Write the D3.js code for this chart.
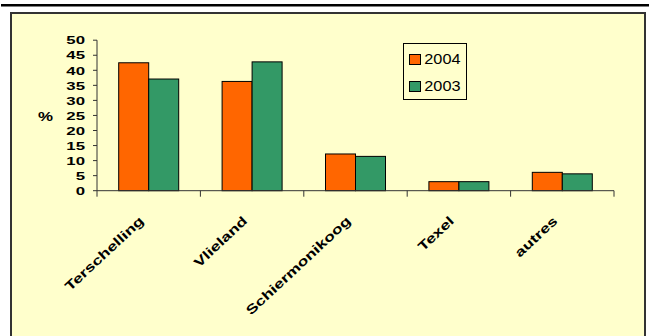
<!DOCTYPE html>
<html>
<head>
<meta charset="utf-8">
<script src="https://cdn.jsdelivr.net/npm/d3@7"></script>
<style>
  html, body { margin: 0; padding: 0; background: #ffffff; }
  svg { display: block; }
  text { font-family: "Liberation Sans", Arial, sans-serif; }
</style>
</head>
<body>
<svg id="chart" width="649" height="336"></svg>
<script>
const categories = ["Terschelling", "Vlieland", "Schiermonikoog", "Texel", "autres"];
const seriesNames = ["2004", "2003"];
const values2004 = [42.5, 36.3, 12.2, 3.0, 6.1];
const values2003 = [37.1, 42.8, 11.4, 3.0, 5.6];
const yTicks = [0, 5, 10, 15, 20, 25, 30, 35, 40, 45, 50];
const colors = ["#FF6600", "#339966"];

const svg = d3.select("#chart");

// top rule
svg.append("rect").attr("x", 1).attr("y", 4).attr("width", 648).attr("height", 2.5).attr("fill", "#000");

// chart panel
svg.append("rect")
  .attr("x", 11).attr("y", 13).attr("width", 634).attr("height", 340)
  .attr("fill", "#FFFFCC").attr("stroke", "#333").attr("stroke-width", 2);

const x = d3.scaleBand().domain(categories).range([97, 614]).paddingInner(0).paddingOuter(0);
const y = d3.scaleLinear().domain([0, 50]).range([190.7, 40.2]);
const barW = 30;
const xs = d3.scaleBand().domain(seriesNames).range([0, barW * 2]);

const series = [values2004, values2003];

// bars
const g = svg.append("g");
categories.forEach((c, i) => {
  series.forEach((vals, s) => {
    const x0 = x(c) + (x.bandwidth() - barW * 2) / 2 + xs(seriesNames[s]);
    g.append("rect")
      .attr("x", x0).attr("y", y(vals[i]))
      .attr("width", xs.bandwidth()).attr("height", y(0) - y(vals[i]))
      .attr("fill", colors[s]).attr("stroke", "#000").attr("stroke-width", 1);
  });
});

// y axis
const yAxisG = svg.append("g").attr("transform", "translate(97,0)");
yAxisG.append("line").attr("x1", 0).attr("x2", 0).attr("y1", y(50)).attr("y2", y(0))
  .attr("stroke", "#333").attr("stroke-width", 1);
yTicks.forEach(t => {
  yAxisG.append("line").attr("x1", -4).attr("x2", 0).attr("y1", y(t)).attr("y2", y(t))
    .attr("stroke", "#333").attr("stroke-width", 1);
  yAxisG.append("text")
    .attr("transform", `translate(-12,${y(t) + 4.2}) scale(1.42,1)`)
    .attr("text-anchor", "end")
    .attr("font-size", 11.8).attr("font-weight", "bold").attr("fill", "#000")
    .text(t);
});

// y label
svg.append("text")
  .attr("transform", `translate(45.5,${121}) scale(1.3,1)`)
  .attr("text-anchor", "middle")
  .attr("font-size", 13).attr("font-weight", "bold").text("%");

// x axis
const xAxisG = svg.append("g");
xAxisG.append("line").attr("x1", 97).attr("x2", 614).attr("y1", y(0)).attr("y2", y(0))
  .attr("stroke", "#333").attr("stroke-width", 1);
const boundaries = categories.map(c => x(c)).concat([x(categories[categories.length - 1]) + x.bandwidth()]);
boundaries.forEach(b => {
  xAxisG.append("line").attr("x1", b).attr("x2", b).attr("y1", y(0)).attr("y2", y(0) + 6)
    .attr("stroke", "#333").attr("stroke-width", 1);
});
categories.forEach(c => {
  const cx = x(c) + x.bandwidth() / 2;
  xAxisG.append("text")
    .attr("transform", `translate(${cx - 4},${222}) rotate(-43) scale(1.35,1)`)
    .attr("text-anchor", "end")
    .attr("font-size", 13).attr("font-weight", "bold").text(c);
});

// legend
const lg = svg.append("g");
lg.append("rect").attr("x", 403.5).attr("y", 43.5).attr("width", 63).attr("height", 56)
  .attr("fill", "#FFFFCC").attr("stroke", "#000").attr("stroke-width", 1);
seriesNames.forEach((n, i) => {
  const yy = [54, 81][i];
  lg.append("rect").attr("x", 409.5).attr("y", yy + 0.5).attr("width", 11).attr("height", 10)
    .attr("fill", colors[i]).attr("stroke", "#000").attr("stroke-width", 1);
  lg.append("text")
    .attr("transform", `translate(424.3,${yy + 9.5}) scale(1.1,1)`)
    .attr("font-size", 14.8).attr("fill", "#000").text(n);
});
</script>
</body>
</html>
